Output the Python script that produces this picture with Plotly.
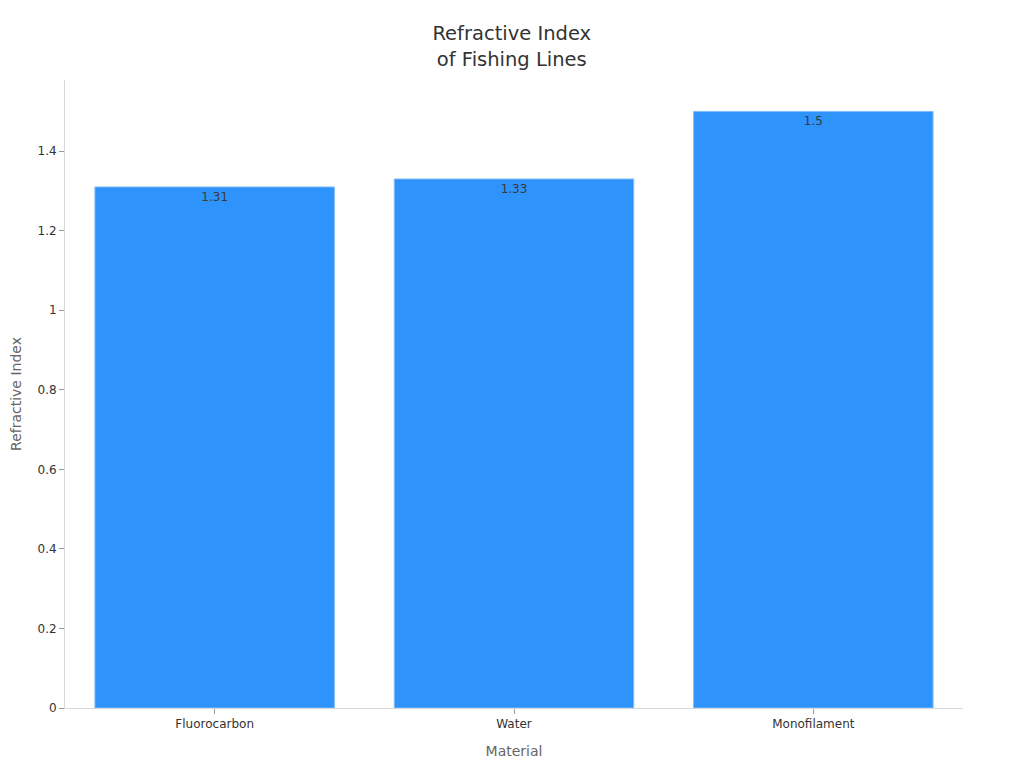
"""Bar chart: refractive index of fishing lines compared with water."""

import plotly.graph_objects as go

materials = ["Fluorocarbon", "Water", "Monofilament"]
refractive_index = [1.31, 1.33, 1.5]
value_labels = ["1.31", "1.33", "1.5"]

BAR = "#2E93FA"
AXIS = "#d9d9d9"
TEXT = "#333333"
FONT = "DejaVu Sans, sans-serif"

fig = go.Figure(
    go.Bar(
        x=materials,
        y=refractive_index,
        text=value_labels,
        textposition="inside",
        insidetextanchor="end",
        textfont=dict(size=12, color="#3a3a3a"),
        marker=dict(color=BAR, line=dict(color="#7fbcfb", width=1)),
    )
)

# page body adds an 8px offset, so margins are shifted to line the plot up
fig.update_layout(
    width=1024,
    height=768,
    margin=dict(l=57, r=69, t=72, b=68),
    paper_bgcolor="white",
    plot_bgcolor="white",
    font=dict(family=FONT, color=TEXT),
    title=dict(
        text="Refractive Index<br>of Fishing Lines",
        x=0.492,
        xanchor="center",
        y=0.958,
        yanchor="top",
        font=dict(size=19.5, color=TEXT),
    ),
    bargap=0.2,
    showlegend=False,
)

fig.update_xaxes(
    title=dict(text="Material", font=dict(size=14, color="#666666")),
    automargin=False,
    showline=True,
    linecolor=AXIS,
    ticks="outside",
    tickcolor="#999999",
    ticklen=5,
    tickfont=dict(size=12, color=TEXT),
    showgrid=False,
)
fig.update_yaxes(
    title=dict(text="Refractive Index", font=dict(size=14, color="#666666"), standoff=18),
    automargin=False,
    showline=True,
    linecolor=AXIS,
    ticks="outside",
    tickcolor="#999999",
    ticklen=5,
    tickfont=dict(size=12, color=TEXT),
    showgrid=False,
    zeroline=False,
)

fig.write_html("out.html")
